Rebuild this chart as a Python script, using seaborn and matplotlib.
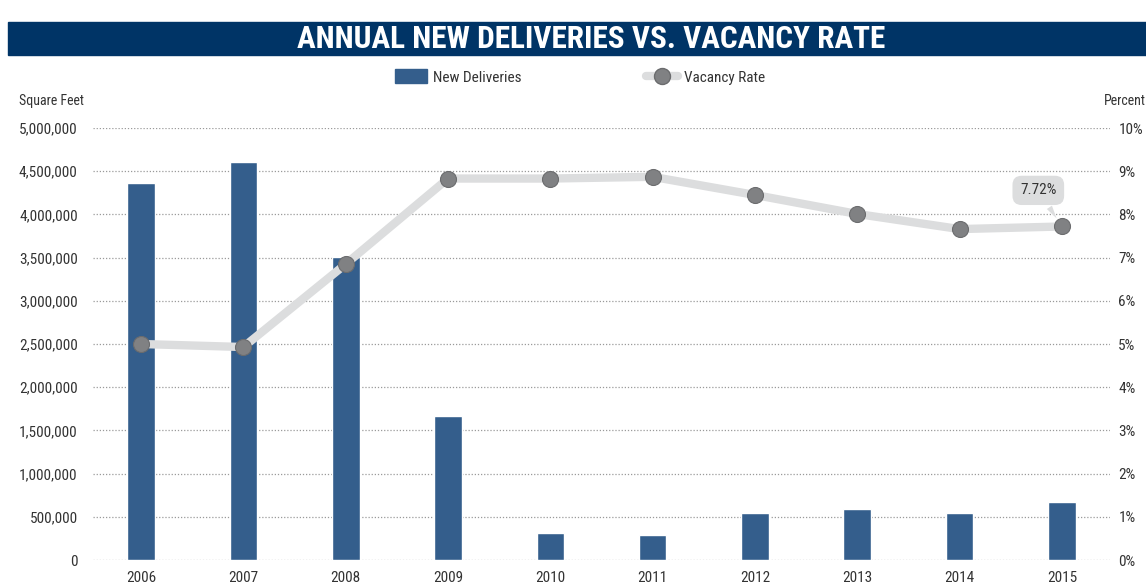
import matplotlib
matplotlib.use("Agg")
import matplotlib.pyplot as plt
import matplotlib.patches as mpatches
from matplotlib.lines import Line2D
from matplotlib.ticker import FuncFormatter, MultipleLocator
from matplotlib import font_manager
import seaborn as sns
import numpy as np
import pandas as pd

# data
years = ["2006", "2007", "2008", "2009", "2010", "2011", "2012", "2013", "2014", "2015"]
deliveries = [4365000, 4605000, 3510000, 1663000, 312000, 289000, 543000, 589000, 543000, 670000]
vacancy = [5.00, 4.93, 6.85, 8.83, 8.83, 8.87, 8.45, 8.01, 7.66, 7.72]
callout_label = "7.72%"

NAVY = "#003466"
BAR = "#345e8c"
LINE = "#dcddde"
DOT = "#808183"
TXT = "#333333"

sns.set_style("white")
installed = {f.name for f in font_manager.fontManager.ttflist}
wanted = ["Roboto Condensed", "DejaVu Sans Condensed", "Liberation Sans Narrow",
          "Roboto", "DejaVu Sans"]
families = [f for f in wanted if f in installed] or ["DejaVu Sans"]
plt.rcParams["font.family"] = families
condensed = families[0] in ("Roboto Condensed", "DejaVu Sans Condensed",
                            "Liberation Sans Narrow")
fs = 11 if condensed else 10

df = pd.DataFrame({"year": years, "deliveries": deliveries, "vacancy": vacancy})
df["pos"] = np.arange(len(df))

fig = plt.figure(figsize=(11.46, 5.85), dpi=100)
ax = fig.add_axes([93 / 1146, 1 - 560 / 585, (1110 - 93) / 1146, (560 - 128) / 585])

sns.barplot(data=df, x="year", y="deliveries", color=BAR, width=0.27,
            saturation=1, ax=ax, zorder=2)
ax.set_xlim(-0.47, 9.47)
ax.set_ylim(0, 5000000)
ax.yaxis.set_major_locator(MultipleLocator(500000))
ax.yaxis.set_major_formatter(FuncFormatter(lambda v, p: "{:,.0f}".format(v)))
ax.grid(axis="y", color="#9a9a9a", linestyle=(0, (1, 1.5)), linewidth=0.9, zorder=0)
ax.set_axisbelow(True)
ax.set_xlabel("")
ax.set_ylabel("")
for s in ax.spines.values():
    s.set_visible(False)
ax.tick_params(axis="y", length=0, pad=11, labelsize=fs, labelcolor=TXT)
ax.tick_params(axis="x", length=0, pad=8, labelsize=fs, labelcolor=TXT)

ax2 = ax.twinx()
sns.lineplot(data=df, x="pos", y="vacancy", ax=ax2, color=LINE, linewidth=6,
             marker="o", markersize=11.5, markerfacecolor=DOT,
             markeredgecolor="#6b6c6e", markeredgewidth=0.8, zorder=3)
ax2.set_xlim(-0.47, 9.47)
ax2.set_ylim(0, 10)
ax2.yaxis.set_major_locator(MultipleLocator(1))
ax2.yaxis.set_major_formatter(FuncFormatter(lambda v, p: "{:.0f}%".format(v)))
ax2.set_xlabel("")
ax2.set_ylabel("")
for s in ax2.spines.values():
    s.set_visible(False)
ax2.tick_params(axis="y", length=0, pad=6, labelsize=fs, labelcolor=TXT)

# callout on the last point
ax2.annotate(callout_label, xy=(df["pos"].iloc[-1], df["vacancy"].iloc[-1]),
             xytext=(-17, 26), textcoords="offset points", ha="center", va="center",
             fontsize=fs, color=TXT,
             bbox=dict(boxstyle="round,pad=0.5,rounding_size=0.6", fc=LINE, ec="none"),
             arrowprops=dict(arrowstyle="wedge,tail_width=0.4,shrink_factor=0.5",
                             fc=LINE, ec="none", shrinkB=7))

# title bar
fig.patches.append(mpatches.Rectangle((8 / 1146, 1 - 55 / 585), 1 - 8 / 1146, 33 / 585,
                                      transform=fig.transFigure, color=NAVY, zorder=0))
fig.text(0.516, 1 - 38.5 / 585, "ANNUAL NEW DELIVERIES VS. VACANCY RATE",
         ha="center", va="center", color="white",
         fontsize=22.5 if condensed else 17, fontweight="bold")

fig.text(19 / 1146, 1 - 101 / 585, "Square Feet", ha="left", va="center",
         fontsize=fs - 1, color=TXT)
fig.text(1146 / 1146, 1 - 101 / 585, "Percent", ha="right", va="center",
         fontsize=fs - 1, color=TXT)

handles = [mpatches.Patch(color=BAR),
           Line2D([], [], color=LINE, linewidth=6, marker="o", markersize=11.5,
                  markerfacecolor=DOT, markeredgecolor="#6b6c6e")]
fig.legend(handles, ["New Deliveries", "Vacancy Rate"], loc="center",
           bbox_to_anchor=(580 / 1146, 1 - 77 / 585), ncol=2, frameon=False,
           fontsize=fs, handlelength=2.1, handleheight=1.0, handletextpad=0.4,
           columnspacing=8.1, labelcolor=TXT)

fig.savefig("out.png", dpi=100)
